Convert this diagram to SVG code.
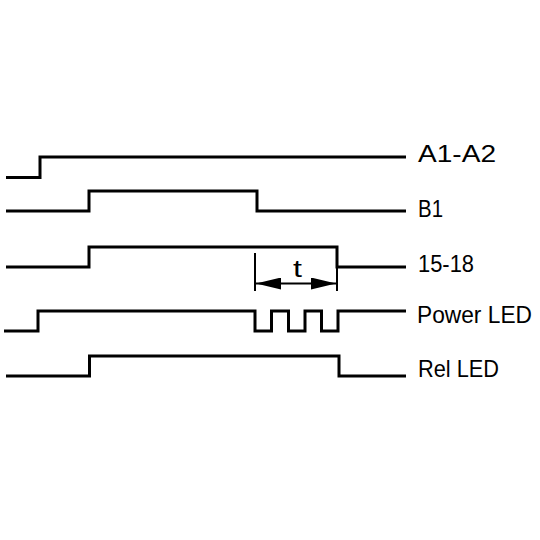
<svg xmlns="http://www.w3.org/2000/svg" width="540" height="540" viewBox="0 0 540 540">
<style>
.sig{fill:none;stroke:#000;stroke-width:3;stroke-linejoin:miter;stroke-linecap:butt}
.dim{fill:none;stroke:#000;stroke-width:2}
.lbl{font-family:"Liberation Sans","DejaVu Sans",sans-serif;font-size:24.5px;fill:#000}
</style>
<defs>
<marker id="ah" viewBox="0 0 25 12" refX="25" refY="6" markerWidth="25" markerHeight="12" markerUnits="userSpaceOnUse" orient="auto-start-reverse">
<path d="M0,0 L25,6 L0,12 Z" fill="#000"/>
</marker>
</defs>
<rect width="540" height="540" fill="#fff"/>
<g id="connectors">
<path id="A1-A2-wave" class="sig" d="M6,177.5 H40 V157 H406"/>
<path id="B1-wave" class="sig" d="M6,211 H89 V191 H257 V211 H406"/>
<path id="15-18-wave" class="sig" d="M6,267 H89 V247 H337 V267 H406"/>
<path id="power-wave" class="sig" d="M4,331 H38 V311 H255 V331 H271.5 V311 H288.5 V331 H305 V311 H321.5 V331 H338 V311 H406"/>
<path id="rel-wave" class="sig" d="M6,376 H89.5 V356 H339 V376 H406"/>
<line class="dim" x1="255" y1="253" x2="255" y2="291"/>
<line class="dim" x1="337" y1="267" x2="337" y2="291"/>
<line class="dim" x1="256" y1="283.5" x2="336" y2="283.5" marker-start="url(#ah)" marker-end="url(#ah)"/>
</g>
<g id="label-A1-A2"><text class="lbl" x="418" y="162" textLength="78" lengthAdjust="spacingAndGlyphs">A1-A2</text></g>
<g id="label-B1"><text class="lbl" x="418" y="217" textLength="25" lengthAdjust="spacingAndGlyphs">B1</text></g>
<g id="label-15-18"><text class="lbl" x="418" y="272" textLength="56" lengthAdjust="spacingAndGlyphs">15-18</text></g>
<g id="label-power"><text class="lbl" x="417" y="323" textLength="115" lengthAdjust="spacingAndGlyphs">Power LED</text></g>
<g id="label-rel"><text class="lbl" x="418" y="377" textLength="81" lengthAdjust="spacingAndGlyphs">Rel LED</text></g>
<g id="label-t"><text class="lbl" x="293" y="277" textLength="9" lengthAdjust="spacingAndGlyphs">t</text></g>
</svg>
